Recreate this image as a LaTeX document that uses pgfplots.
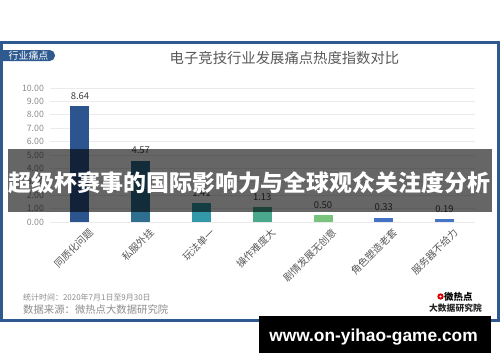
\documentclass[border=0pt]{standalone}
\usepackage{fontspec}
\usepackage{pgfplots}
\pgfplotsset{compat=1.18}
\setmainfont{Noto Sans CJK SC}
\newfontfamily\lib{Liberation Sans}
\definecolor{frameblue}{HTML}{2E5A8F}
\definecolor{gridc}{HTML}{EBEBEB}
\definecolor{tickc}{HTML}{8C8C8C}
\definecolor{labc}{HTML}{595959}
\definecolor{valc}{HTML}{404040}
\definecolor{cA}{HTML}{2C5590}
\definecolor{cB}{HTML}{2E6F8F}
\definecolor{cC}{HTML}{3399AA}
\definecolor{cD}{HTML}{4AA98C}
\definecolor{cE}{HTML}{78C47C}
\definecolor{cF}{HTML}{4472C4}
\definecolor{cG}{HTML}{4775C6}
\begin{document}
\begin{tikzpicture}
\begin{scope}[x=1bp,y=1bp]
\path[use as bounding box] (0,0) rectangle (500,362);
\fill[white] (0,0) rectangle (500,362);
% frame
\draw[frameblue, line width=2.6bp] (1.3,319.5) rectangle (498.7,41.5);
% tab
\fill[frameblue, rounded corners=5.3bp] (-6,301) rectangle (55,312);
\node[white, font=\fontsize{10}{11}\selectfont, anchor=center] at (28.5,306.5) {行业痛点};
% title
\node[labc, font=\fontsize{14.4}{16}\selectfont] at (284.5,304) {电子竞技行业发展痛点热度指数对比};
% footer
\node[tickc, anchor=west, inner sep=0pt, font=\fontsize{8}{9}\selectfont] at (23,65) {统计时间：2020年7月1日至9月30日};
\node[tickc, anchor=west, inner sep=0pt, font=\fontsize{10.4}{12}\selectfont] at (23,52) {数据来源：微热点大数据研究院};
% logo
\fill[red!85!black] (440.5,65.5) circle (3.2bp);
\fill[white] (440.5,65.5) circle (1.1bp);
\node[black, anchor=west, inner sep=0pt, font=\bfseries\fontsize{9.5}{10}\selectfont] at (444,65) {微热点};
\node[black!85, anchor=center, inner sep=0pt, font=\bfseries\fontsize{8.8}{10}\selectfont] at (455.5,53.5) {大数据研究院};
\end{scope}
\begin{axis}[
  at={(49.6bp,140bp)}, anchor=south west, scale only axis,
  width=425.3bp, height=134bp,
  xmin=-0.5, xmax=6.5, ymin=0, ymax=10,
  ytick={0,1,...,10},
  xtick={0,...,6},
  xticklabels={同质化问题,私服外挂,玩法单一,操作难度大,剧情发展无创意,角色塑造老套,服务器不给力},
  ymajorgrids, major grid style={draw=gridc, line width=0.8bp},
  axis line style={draw=none},
  major tick length=0pt,
  /pgf/number format/assume math mode=true,
  yticklabel style={font=\fontsize{8.8}{10}\selectfont, color=tickc, inner sep=0pt, xshift=-5.5bp,
    /pgf/number format/.cd, fixed, fixed zerofill, precision=2},
  xticklabel style={font=\fontsize{10}{11}\selectfont, color=labc, rotate=45, anchor=east, inner sep=0pt, yshift=-14bp, xshift=2bp},
  ybar, bar width=19bp, bar shift=0pt,
  nodes near coords={\pgfmathprintnumber[fixed,fixed zerofill,precision=2,assume math mode=true]{\pgfplotspointmeta}},
  nodes near coords style={font=\fontsize{9.5}{10}\selectfont, color=valc, inner sep=0pt, yshift=6.5bp, anchor=south},
  clip=false,
]
\addplot[fill=cA, draw=none] coordinates {(0,8.64)};
\addplot[fill=cB, draw=none] coordinates {(1,4.57)};
\addplot[fill=cC, draw=none] coordinates {(2,1.41)};
\addplot[fill=cD, draw=none] coordinates {(3,1.13)};
\addplot[fill=cE, draw=none] coordinates {(4,0.50)};
\addplot[fill=cF, draw=none] coordinates {(5,0.33)};
\addplot[fill=cG, draw=none] coordinates {(6,0.19)};
\end{axis}
\begin{scope}[x=1bp,y=1bp]
% banner
\fill[black, opacity=0.6] (8,213) rectangle (492,150);
\node[white, font=\bfseries\fontsize{23}{25}\selectfont] at (249.5,179) {超级杯赛事的国际影响力与全球观众关注度分析};
% black box
\fill[black] (259,46) rectangle (491,9);
\node[white, anchor=base, inner sep=0pt, font=\lib\bfseries\fontsize{17.4}{19}\selectfont] at (373.5,20.3) {www.on-yihao-game.com};
\end{scope}
\end{tikzpicture}
\end{document}
